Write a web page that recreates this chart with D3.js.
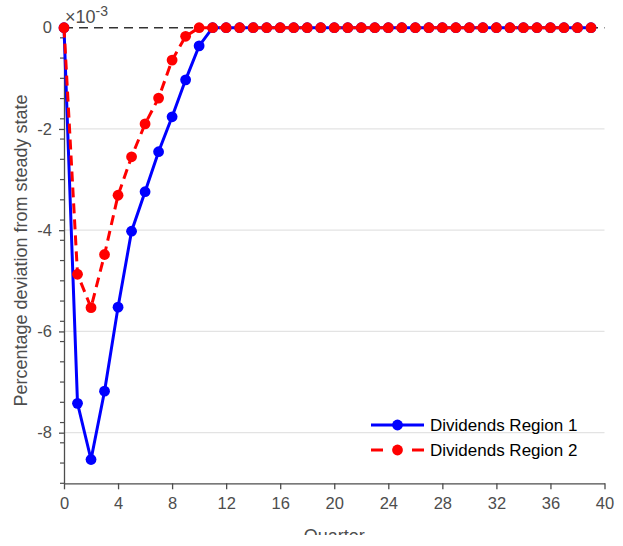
<!DOCTYPE html>
<html>
<head>
<meta charset="utf-8">
<script src="https://cdn.jsdelivr.net/npm/d3@7"></script>
<style>
  body { margin: 0; background: #fff; }
  svg { display: block; font-family: "Liberation Sans", Arial, sans-serif; }
</style>
</head>
<body>
<svg id="chart" width="623" height="546"></svg>
<script>
// quarters 0..39
const quarters = d3.range(0, 40)

// values in units of 1e-3
const region1 = [0, -7.42, -8.53, -7.18, -5.52, -4.02, -3.24, -2.45, -1.76, -1.03, -0.36,
  0, 0, 0, 0, 0, 0, 0, 0, 0, 0, 0, 0, 0, 0, 0, 0, 0, 0, 0, 0, 0, 0, 0, 0, 0, 0, 0, 0, 0]
const region2 = [0, -4.87, -5.53, -4.48, -3.31, -2.55, -1.90, -1.39, -0.64, -0.17, 0,
  0, 0, 0, 0, 0, 0, 0, 0, 0, 0, 0, 0, 0, 0, 0, 0, 0, 0, 0, 0, 0, 0, 0, 0, 0, 0, 0, 0, 0]

const xTicks = d3.range(0, 41, 4)
const yTicks = [0, -2, -4, -6, -8]
const yMinorTicks = d3.range(-9, 0.01, 0.4)

const seriesNames = ['Dividends Region 1', 'Dividends Region 2']

const svg = d3.select('#chart')
const axisColor = '#4d4d4d'

const x = d3.scaleLinear().domain([0, 40]).range([64, 604.5])
const y = d3.scaleLinear().domain([-9, 0]).range([483.3, 27.7])

// grid
svg.append('g')
  .selectAll('line')
  .data(yTicks.filter(d => d != 0))
  .enter().append('line')
  .attr('x1', x(0)).attr('x2', x(40))
  .attr('y1', d => y(d)).attr('y2', d => y(d))
  .attr('stroke', '#e3e3e3').attr('stroke-width', 1.3)

// zero reference line
svg.append('line')
  .attr('x1', x(0)).attr('x2', x(40))
  .attr('y1', y(0)).attr('y2', y(0))
  .attr('stroke', '#333').attr('stroke-width', 1.5)
  .attr('stroke-dasharray', '9,6')

// x axis
const xAxis = d3.axisBottom(x).tickValues(xTicks).tickSize(6).tickSizeOuter(0).tickPadding(8)
const gx = svg.append('g')
  .attr('transform', `translate(0, ${y(-9)})`)
  .call(xAxis)
gx.select('.domain').attr('stroke', axisColor).attr('stroke-width', 1.3)
gx.selectAll('.tick line').attr('stroke', axisColor).attr('stroke-width', 1.3)
gx.selectAll('text').attr('fill', axisColor).attr('font-size', 16.5)
  .attr('font-family', '"Liberation Sans", Arial, sans-serif')

// y axis with minor ticks
svg.append('g')
  .selectAll('line')
  .data(yMinorTicks)
  .enter().append('line')
  .attr('x1', x(0) - 4).attr('x2', x(0))
  .attr('y1', d => y(d)).attr('y2', d => y(d))
  .attr('stroke', axisColor).attr('stroke-width', 1.2)

const yAxis = d3.axisLeft(y).tickValues(yTicks).tickSize(5).tickSizeOuter(0).tickPadding(7)
  .tickFormat(d => d3.format('d')(d).replace('−', '-'))
const gy = svg.append('g')
  .attr('transform', `translate(${x(0)}, 0)`)
  .call(yAxis)
gy.select('.domain').attr('stroke', axisColor).attr('stroke-width', 1.3)
gy.selectAll('.tick line').attr('stroke', axisColor).attr('stroke-width', 1.3)
gy.selectAll('text').attr('fill', axisColor).attr('font-size', 16.5)
  .attr('font-family', '"Liberation Sans", Arial, sans-serif')

// exponent label
const expo = svg.append('text')
  .attr('x', x(0) + 1).attr('y', 23)
  .attr('fill', axisColor).attr('font-size', 18)
expo.append('tspan').text('×10')
expo.append('tspan').attr('dy', -7).attr('font-size', 14).text('-3')

// axis labels
svg.append('text')
  .attr('transform', `translate(27, ${y(-4.5) - 5}) rotate(-90)`)
  .attr('text-anchor', 'middle')
  .attr('fill', axisColor).attr('font-size', 18)
  .text('Percentage deviation from steady state')

svg.append('text')
  .attr('x', x(20)).attr('y', 542)
  .attr('text-anchor', 'middle')
  .attr('fill', axisColor).attr('font-size', 18)
  .text('Quarter')
// figure edge crops the label
svg.append('rect').attr('x', 0).attr('y', 535).attr('width', 623).attr('height', 11).attr('fill', '#fff')

// series
const line = d3.line().x((d, i) => x(quarters[i])).y(d => y(d))
const series = [
  { name: seriesNames[0], values: region1, color: '#0000ff', dash: null },
  { name: seriesNames[1], values: region2, color: '#ff0000', dash: '10,6' }
]

series.forEach(s => {
  svg.append('path')
    .datum(s.values)
    .attr('d', line)
    .attr('fill', 'none')
    .attr('stroke', s.color)
    .attr('stroke-width', 3)
    .attr('stroke-dasharray', s.dash)
  svg.append('g')
    .selectAll('circle')
    .data(s.values)
    .enter().append('circle')
    .attr('cx', (d, i) => x(quarters[i]))
    .attr('cy', d => y(d))
    .attr('r', 5.4)
    .attr('fill', s.color)
})

// legend
const legend = svg.append('g').attr('transform', 'translate(371, 425)')
series.forEach((s, i) => {
  const g = legend.append('g').attr('transform', `translate(0, ${i * 25})`)
  g.append('line')
    .attr('x1', 0).attr('x2', 53)
    .attr('stroke', s.color).attr('stroke-width', 3)
    .attr('stroke-dasharray', s.dash ? '12,29,12' : null)
  g.append('circle').attr('cx', 26.5).attr('r', 5.4).attr('fill', s.color)
  g.append('text')
    .attr('x', 59).attr('y', 0).attr('dy', '0.35em')
    .attr('fill', '#000').attr('font-size', 17)
    .text(s.name)
})
</script>
</body>
</html>
